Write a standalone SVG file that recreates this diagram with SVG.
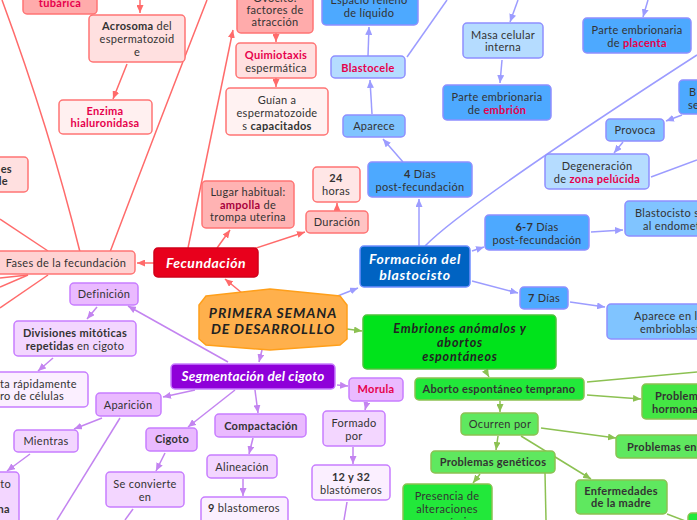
<svg xmlns="http://www.w3.org/2000/svg" width="697" height="520" viewBox="0 0 697 520">
<defs>
<style>
.t{font-family:Lato,"Noto Sans",sans-serif;font-size:11px;fill:#333;text-anchor:middle;letter-spacing:0.3px}
.s{text-anchor:start}
.e{text-anchor:end}
.b{font-weight:bold}
.c{fill:#e6004c;font-weight:bold}
.dc{fill:#a8003c;font-weight:bold}
.h{font-size:13px;font-weight:bold;font-style:italic}
.w{fill:#fff}
.k{fill:#222}
rect{rx:4;ry:4;stroke-width:1.5}
.r{stroke:#ff7474}
.bl{stroke:#8f8fff}
.p{stroke:#c77dff}
.g{stroke:#8cc152}
.lr{stroke:#ff6b6b;fill:none;stroke-width:1.5}
.lb{stroke:#9c9cff;fill:none;stroke-width:1.5}
.lp{stroke:#c384f0;fill:none;stroke-width:1.5}
.lg{stroke:#8cc152;fill:none;stroke-width:1.5}
</style>
<marker id="aR" markerWidth="8" markerHeight="7" refX="8" refY="3.5" orient="auto" markerUnits="userSpaceOnUse"><path d="M0,0 L8,3.5 L0,7 z" fill="#ff6b6b"/></marker>
<marker id="aB" markerWidth="8" markerHeight="7" refX="8" refY="3.5" orient="auto" markerUnits="userSpaceOnUse"><path d="M0,0 L8,3.5 L0,7 z" fill="#9c9cff"/></marker>
<marker id="aP" markerWidth="8" markerHeight="7" refX="8" refY="3.5" orient="auto" markerUnits="userSpaceOnUse"><path d="M0,0 L8,3.5 L0,7 z" fill="#c384f0"/></marker>
<marker id="aG" markerWidth="8" markerHeight="7" refX="8" refY="3.5" orient="auto" markerUnits="userSpaceOnUse"><path d="M0,0 L8,3.5 L0,7 z" fill="#8cc152"/></marker>
</defs>
<rect x="0" y="0" width="697" height="520" fill="#fff" stroke="none" rx="0"/>
<g id="connectors">
<g marker-end="url(#aR)">
<path class="lr" d="M140,0 L140,13"/>
<path class="lr" d="M127,64 L113,99"/>
<path class="lr" d="M188,248 L233,30"/>
<path class="lr" d="M154,263 L137,263"/>
<path class="lr" d="M217,248 L230,230"/>
<path class="lr" d="M253,249 L305,232"/>
<path class="lr" d="M337,211 L337,203"/>
<path class="lr" d="M276,33 L276,42"/>
<path class="lr" d="M276,78 L276,87"/>
<path class="lr" d="M242,293 L225,279"/>
</g>
<path class="lr" d="M2,0 Q50,130 80,252"/>
<path class="lr" d="M207,0 Q160,120 110,252"/>
<path class="lr" d="M0,219 L48,251"/>
<path class="lr" d="M28,275 L0,278"/>
<path class="lr" d="M28,275 L0,287"/>
<path class="lr" d="M48,275 L0,308"/>
<g marker-end="url(#aB)">
<path class="lb" d="M368,56 L369,27"/>
<path class="lb" d="M372,114 L370,80"/>
<path class="lb" d="M403,162 L383,139"/>
<path class="lb" d="M419,246 L419,199"/>
<path class="lb" d="M518,0 L510,22"/>
<path class="lb" d="M502,60 L500,83"/>
<path class="lb" d="M648,0 L643,17"/>
<path class="lb" d="M682,115 L666,121"/>
<path class="lb" d="M623,142 L614,153"/>
<path class="lb" d="M335,297 L358,288"/>
<path class="lb" d="M472,251 L484,247"/>
<path class="lb" d="M591,232 L623,230"/>
<path class="lb" d="M472,281 L518,293"/>
<path class="lb" d="M570,302 L605,307"/>
</g>
<path class="lb" d="M407,57 L447,0"/>
<path class="lb" d="M425,246 Q465,205 697,55"/>
<path class="lb" d="M651,177 L697,160"/>
<g marker-end="url(#aP)">
<path class="lp" d="M228,362 L128,306"/>
<path class="lp" d="M97,307 L87,319"/>
<path class="lp" d="M53,358 L38,371"/>
<path class="lp" d="M262,350 L259,362"/>
<path class="lp" d="M195,390 L163,397"/>
<path class="lp" d="M102,418 L74,429"/>
<path class="lp" d="M30,454 L7,471"/>
<path class="lp" d="M235,390 L188,427"/>
<path class="lp" d="M165,453 L156,471"/>
<path class="lp" d="M255,390 L258,413"/>
<path class="lp" d="M253,438 L249,454"/>
<path class="lp" d="M243,479 L243,496"/>
<path class="lp" d="M337,385 L348,386"/>
<path class="lp" d="M367,402 L365,410"/>
<path class="lp" d="M353,447 L353,464"/>
</g>
<path class="lp" d="M120,418 L57,520"/>
<path class="lp" d="M133,509 L125,520"/>
<path class="lp" d="M347,502 L344,520"/>
<g marker-end="url(#aG)">
<path class="lg" d="M347,329 L362,331"/>
<path class="lg" d="M485,370 L489,377"/>
<path class="lg" d="M587,395 L641,399"/>
<path class="lg" d="M500,401 L500,412"/>
<path class="lg" d="M541,428 L616,438"/>
<path class="lg" d="M498,436 L496,450"/>
<path class="lg" d="M521,436 L591,479"/>
<path class="lg" d="M480,474 L473,483"/>
</g>
<path class="lg" d="M587,382 L697,372"/>
<path class="lg" d="M545,473 L546,520"/>
<path class="lg" d="M667,514 L688,522"/>
</g>

<g id="n_tubarica"><rect class="r" x="23" y="-10" width="74" height="24" fill="#ffabab"/><text class="t c" x="60" y="7">tubárica</text></g>
<g id="n_acrosoma"><rect class="r" x="89" y="15" width="96" height="47" fill="#ffe0e0"/><text class="t" x="137" y="30"><tspan class="b">Acrosoma</tspan> del</text><text class="t" x="137" y="43">espermatozoid</text><text class="t" x="137" y="56">e</text></g>
<g id="n_enzima"><rect class="r" x="59" y="100" width="93" height="34" fill="#fff0f0"/><text class="t c" x="105" y="115">Enzima</text><text class="t c" x="105" y="127">hialuronidasa</text></g>
<g id="n_left1"><rect class="r" x="-10" y="157" width="38" height="35" fill="#ffe0e0"/><text class="t e b" x="12" y="173">es</text><text class="t e b" x="8" y="185">le</text></g>
<g id="n_factores"><rect class="r" x="237" y="-5" width="76" height="38" fill="#ffabab"/><text class="t" x="275" y="2">Ovocito:</text><text class="t" x="275" y="14">factores de</text><text class="t" x="275" y="26">atracción</text></g>
<g id="n_quimio"><rect class="r" x="236" y="43" width="80" height="35" fill="#ffe0e0"/><text class="t c" x="276" y="59">Quimiotaxis</text><text class="t" x="276" y="72">espermática</text></g>
<g id="n_guian"><rect class="r" x="226" y="88" width="102" height="47" fill="#fff2f2"/><text class="t" x="277" y="104">Guían a</text><text class="t" x="277" y="117">espermatozoide</text><text class="t" x="277" y="130">s <tspan class="b">capacitados</tspan></text></g>
<g id="n_lugar"><rect class="r" x="202" y="181" width="92" height="47" fill="#ffb3b3"/><text class="t" x="248" y="196">Lugar habitual:</text><text class="t" x="248" y="209"><tspan class="dc">ampolla</tspan> de</text><text class="t" x="248" y="221">trompa uterina</text></g>
<g id="n_duracion"><rect class="r" x="306" y="211" width="62" height="22" fill="#ffc4c4"/><text class="t" x="337" y="226">Duración</text></g>
<g id="n_24"><rect class="r" x="313" y="167" width="47" height="35" fill="#ffe6e6"/><text class="t b" x="336" y="182">24</text><text class="t" x="336" y="195">horas</text></g>
<g id="n_fases"><rect class="r" x="-10" y="251" width="145" height="23" fill="#ffd2d2"/><text class="t" x="66" y="267">Fases de la fecundación</text></g>
<g id="n_fecundacion"><rect x="154" y="248" width="104" height="29" fill="#e8001c" stroke="#d0001a"/><text class="t h w" x="206" y="268" style="font-size:14px;letter-spacing:0.5px">Fecundación</text></g>

<g id="n_central"><polygon points="206,296 270,289 340,296 347,305 347,339 340,345 270,350 206,345 199,339 199,305" fill="#ffb04c" stroke="#ff9f1a" stroke-width="1.5"/><text class="t h k" x="273" y="318" style="font-size:14px;letter-spacing:0.9px">PRIMERA SEMANA</text><text class="t h k" x="273" y="334" style="font-size:14px;letter-spacing:0.9px">DE DESARROLLLO</text></g>

<g id="n_espacio"><rect class="bl" x="322" y="-10" width="96" height="35" fill="#4da9ff"/><text class="t" x="369" y="4">Espacio relleno</text><text class="t" x="369" y="17">de líquido</text></g>
<g id="n_blastocele"><rect class="bl" x="331" y="56" width="74" height="22" fill="#b5dcff"/><text class="t c" x="368" y="72">Blastocele</text></g>
<g id="n_aparece"><rect class="bl" x="343" y="115" width="62" height="22" fill="#80c4ff"/><text class="t" x="374" y="130">Aparece</text></g>
<g id="n_4dias"><rect class="bl" x="368" y="162" width="104" height="35" fill="#4da9ff"/><text class="t" x="420" y="178"><tspan class="b">4</tspan> Días</text><text class="t" x="420" y="191">post-fecundación</text></g>
<g id="n_formacion"><rect x="360" y="246" width="110" height="41" fill="#0063c2" stroke="#6f8fff"/><text class="t h w" x="415" y="264" style="font-size:14px;letter-spacing:0.7px">Formación del</text><text class="t h w" x="415" y="280" style="font-size:14px;letter-spacing:0.7px">blastocisto</text></g>
<g id="n_masa"><rect class="bl" x="463" y="23" width="80" height="35" fill="#b5dcff"/><text class="t" x="503" y="39">Masa celular</text><text class="t" x="503" y="51">interna</text></g>
<g id="n_pembrion"><rect class="bl" x="443" y="85" width="108" height="35" fill="#4da9ff"/><text class="t" x="497" y="101">Parte embrionaria</text><text class="t" x="497" y="114">de <tspan class="c">embrión</tspan></text></g>
<g id="n_pplacenta"><rect class="bl" x="583" y="18" width="108" height="35" fill="#4da9ff"/><text class="t" x="637" y="34">Parte embrionaria</text><text class="t" x="637" y="47">de <tspan class="c">placenta</tspan></text></g>
<g id="n_rightB"><rect class="bl" x="679" y="80" width="40" height="34" fill="#4da9ff"/><text class="t s" x="689" y="96">B</text><text class="t s" x="688" y="109">se</text></g>
<g id="n_provoca"><rect class="bl" x="606" y="119" width="58" height="22" fill="#80c4ff"/><text class="t" x="635" y="134">Provoca</text></g>
<g id="n_degen"><rect class="bl" x="545" y="154" width="104" height="35" fill="#b5dcff"/><text class="t" x="597" y="170">Degeneración</text><text class="t" x="597" y="183">de <tspan class="c">zona pelúcida</tspan></text></g>
<g id="n_67"><rect class="bl" x="485" y="215" width="104" height="35" fill="#4da9ff"/><text class="t" x="537" y="231"><tspan class="b">6-7</tspan> Días</text><text class="t" x="537" y="244">post-fecundación</text></g>
<g id="n_blastse"><rect class="bl" x="625" y="201" width="90" height="35" fill="#80c4ff"/><text class="t s" x="635" y="217">Blastocisto se</text><text class="t s" x="643" y="230">al endomet</text></g>
<g id="n_7dias"><rect class="bl" x="520" y="287" width="48" height="22" fill="#4da9ff"/><text class="t" x="544" y="302"><tspan class="b">7</tspan> Días</text></g>
<g id="n_aparecen"><rect class="bl" x="607" y="304" width="100" height="35" fill="#80c4ff"/><text class="t s" x="634" y="320">Aparece en l</text><text class="t s" x="640" y="333">embrioblast</text></g>

<g id="n_segment"><rect x="171" y="364" width="164" height="25" fill="#8f00d9" stroke="#c77dff"/><text class="t h w" x="253" y="381" style="font-size:13.5px;letter-spacing:0.2px">Segmentación del cigoto</text></g>
<g id="n_definicion"><rect class="p" x="70" y="283" width="68" height="22" fill="#eabaff"/><text class="t" x="104" y="298">Definición</text></g>
<g id="n_divisiones"><rect class="p" x="14" y="321" width="122" height="35" fill="#f3d6ff"/><text class="t b" x="75" y="337">Divisiones mitóticas</text><text class="t" x="75" y="350"><tspan class="b">repetidas</tspan> en cigoto</text></g>
<g id="n_aumenta"><rect class="p" x="-10" y="372" width="98" height="35" fill="#fbefff"/><text class="t s" x="0" y="388">ta rápidamente</text><text class="t s" x="0" y="400">ro de células</text></g>
<g id="n_aparicion"><rect class="p" x="96" y="393" width="65" height="23" fill="#eabaff"/><text class="t" x="128" y="409">Aparición</text></g>
<g id="n_mientras"><rect class="p" x="14" y="430" width="64" height="22" fill="#f3d6ff"/><text class="t" x="46" y="445">Mientras</text></g>
<g id="n_leftbot"><rect class="p" x="-10" y="472" width="29" height="60" fill="#f3d6ff"/><text class="t e" x="11" y="488">to</text><text class="t e b" x="10" y="513">na</text></g>
<g id="n_cigoto"><rect class="p" x="146" y="428" width="51" height="23" fill="#eabaff"/><text class="t b" x="172" y="443">Cigoto</text></g>
<g id="n_seconv"><rect class="p" x="106" y="472" width="78" height="35" fill="#f3d6ff"/><text class="t" x="145" y="488">Se convierte</text><text class="t" x="145" y="501">en</text></g>
<g id="n_compact"><rect class="p" x="215" y="414" width="91" height="23" fill="#eabaff"/><text class="t b" x="261" y="430">Compactación</text></g>
<g id="n_alin"><rect class="p" x="207" y="455" width="70" height="23" fill="#f3d6ff"/><text class="t" x="242" y="471">Alineación</text></g>
<g id="n_9blast"><rect class="p" x="201" y="497" width="87" height="30" fill="#fbefff"/><text class="t" x="244" y="512"><tspan class="b">9</tspan> blastomeros</text></g>
<g id="n_morula"><rect class="p" x="349" y="378" width="54" height="23" fill="#eabaff"/><text class="t c" x="376" y="393">Morula</text></g>
<g id="n_formado"><rect class="p" x="323" y="411" width="62" height="35" fill="#f3d6ff"/><text class="t" x="354" y="427">Formado</text><text class="t" x="354" y="440">por</text></g>
<g id="n_1232"><rect class="p" x="312" y="465" width="78" height="35" fill="#fbefff"/><text class="t b" x="351" y="481">12 y 32</text><text class="t" x="351" y="494">blastómeros</text></g>

<g id="n_embriones"><rect x="363" y="315" width="193" height="54" fill="#00e31b" stroke="#4cc23a"/><text class="t h k" x="460" y="333" style="font-size:12.5px;letter-spacing:0.8px">Embriones anómalos y</text><text class="t h k" x="460" y="347" style="font-size:12.5px;letter-spacing:0.8px">abortos</text><text class="t h k" x="460" y="361" style="font-size:12.5px;letter-spacing:0.8px">espontáneos</text></g>
<g id="n_aborto"><rect class="g" x="415" y="378" width="169" height="22" fill="#22e83a"/><text class="t b" x="499" y="393">Aborto espontáneo temprano</text></g>
<g id="n_ocurren"><rect class="g" x="461" y="413" width="77" height="22" fill="#5fe85f"/><text class="t" x="500" y="428">Ocurren por</text></g>
<g id="n_probhorm"><rect class="g" x="642" y="384" width="70" height="35" fill="#44e644"/><text class="t s b" x="655" y="400">Problem</text><text class="t s b" x="652" y="413">hormona</text></g>
<g id="n_probenx"><rect class="g" x="616" y="435" width="90" height="23" fill="#5fe85f"/><text class="t s b" x="627" y="451">Problemas en</text></g>
<g id="n_probgen"><rect class="g" x="431" y="451" width="124" height="22" fill="#5fe85f"/><text class="t b" x="493" y="466">Problemas genéticos</text></g>
<g id="n_enferm"><rect class="g" x="576" y="480" width="91" height="34" fill="#5fe85f"/><text class="t b" x="621" y="495">Enfermedades</text><text class="t b" x="621" y="507">de la madre</text></g>
<g id="n_presencia"><rect class="g" x="403" y="484" width="89" height="45" fill="#22e83a"/><text class="t" x="447" y="500">Presencia de</text><text class="t" x="447" y="513">alteraciones</text><text class="t" x="447" y="526">cromosómicas</text></g>
<g id="n_greenBR"><rect class="g" x="688" y="513" width="20" height="20" fill="#22e83a"/></g>
</svg>
